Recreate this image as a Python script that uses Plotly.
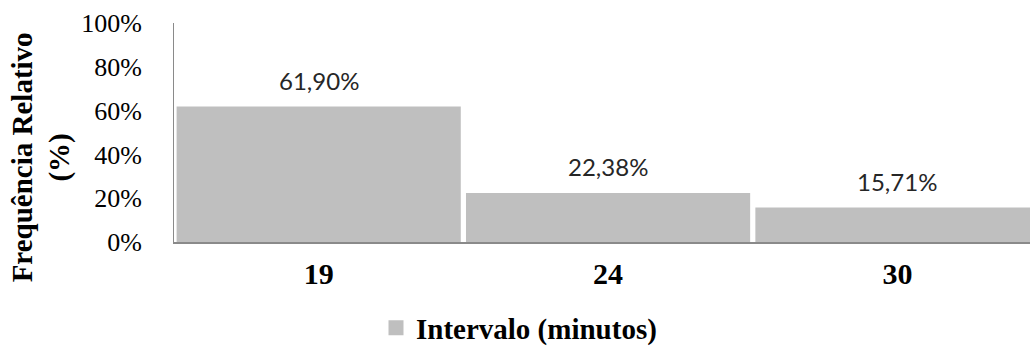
import plotly.graph_objects as go

# Relative frequency of each interval (minutes)
intervalos = ["19", "24", "30"]
frequencia = [61.90, 22.38, 15.71]
y_ticks = [0, 20, 40, 60, 80, 100]
y_tick_text = [f"{v}%" for v in y_ticks]
serie_nome = "Intervalo (minutos)"
eixo_y_titulo = "Frequência Relativo<br>(%)"

BAR_COLOR = "#bfbfbf"
AXIS_COLOR = "#8a8a8a"
SERIF = "Times New Roman, Liberation Serif, serif"
SANS = "Lato, Carlito, Calibri, sans-serif"

fig = go.Figure()

fig.add_trace(go.Bar(
    x=intervalos,
    y=frequencia,
    marker=dict(color=BAR_COLOR, line=dict(width=0)),
    showlegend=False,
    hoverinfo="skip",
))

# Legend entry with a square swatch
fig.add_trace(go.Scatter(
    x=[None], y=[None],
    mode="markers",
    name=serie_nome,
    marker=dict(symbol="square", size=15, color=BAR_COLOR),
    showlegend=True,
))

# Value labels above each bar, Portuguese decimal comma
for i, val in enumerate(frequencia):
    fig.add_annotation(
        x=i, y=val, xref="x", yref="y",
        text=f"{val:.2f}".replace(".", ",") + "%",
        showarrow=False,
        yanchor="middle",
        yshift=26,
        font=dict(family=SANS, size=24, color="#262626"),
    )

# Y-axis title (two lines, rotated)
fig.add_annotation(
    xref="paper", yref="paper",
    x=(41.5 - 174) / 856, y=(242 - 158) / 218.6,
    text=eixo_y_titulo,
    textangle=-90,
    showarrow=False,
    xanchor="center", yanchor="middle",
    font=dict(family=SERIF, size=29, color="#000000", weight="bold"),
)

fig.update_layout(
    width=1030,
    height=346,
    margin=dict(l=174, r=0, t=23, b=104),
    paper_bgcolor="white",
    plot_bgcolor="white",
    bargap=0.018,
    legend=dict(
        orientation="h",
        xref="container", yref="container",
        x=376 / 1030, y=1 - 328 / 346,
        xanchor="left", yanchor="middle",
        font=dict(family=SERIF, size=29, color="#000000", weight="bold"),
        bgcolor="rgba(0,0,0,0)",
    ),
    xaxis=dict(
        type="category",
        range=[-0.5, 2.458],
        showline=True,
        linecolor=AXIS_COLOR,
        linewidth=1.5,
        ticks="",
        showgrid=False,
        zeroline=False,
        ticklabelstandoff=4,
        tickfont=dict(family=SERIF, size=30, color="#000000", weight="bold"),
    ),
    yaxis=dict(
        range=[0, 100],
        tickvals=y_ticks,
        ticktext=y_tick_text,
        showline=True,
        linecolor=AXIS_COLOR,
        linewidth=1,
        ticks="",
        showgrid=False,
        zeroline=False,
        ticklabelstandoff=26,
        tickfont=dict(family=SERIF, size=26, color="#000000"),
    ),
)

fig.write_html("out.html")
